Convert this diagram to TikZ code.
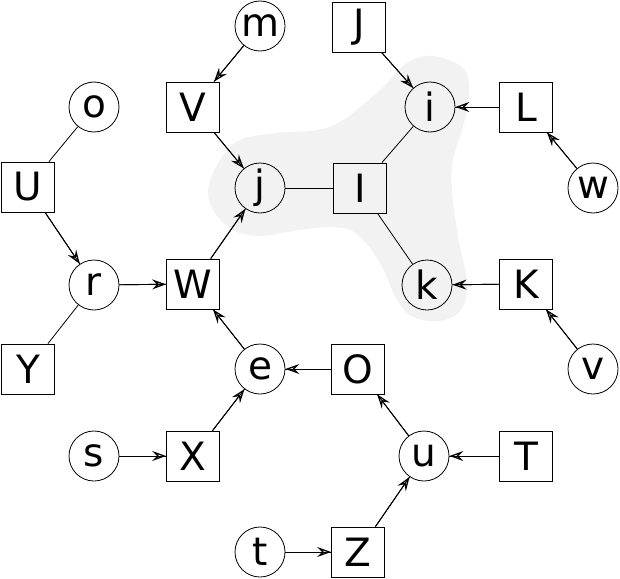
\documentclass[tikz,border=0pt]{standalone}
\usepackage{fontspec}
\setmainfont{DejaVu Sans}
\usetikzlibrary{arrows.meta}
\begin{document}
\begin{tikzpicture}[x=1pt,y=-1pt,
  every node/.style={font=\fontsize{39}{40}\selectfont, inner sep=0pt, line width=0.8pt},
  cnode/.style={draw, circle, minimum size=50pt},
  snode/.style={draw, rectangle, minimum width=53pt, minimum height=50pt},
  plain/.style={draw, line width=0.8pt},
  arr/.style={draw, line width=0.9pt, -{Stealth[open, length=14pt, width=10pt, inset=5pt, line width=1.3pt]}, postaction={draw, -}}
]
\useasboundingbox (0,0) rectangle (620,578);
% shaded region
\fill[black!5] plot[smooth cycle, tension=0.6] coordinates {
 (208,190) (220,160) (240,140) (277,133) (317,130) (343,120) (380,90) (407,63) (433,56)
 (463,68) (469,92) (463,127) (453,160) (452,190) (458,237) (467,283) (461,310)
 (440,321) (413,317) (397,300) (380,263) (357,234) (333,227) (300,230) (260,236)
 (233,230) (215,213)};
% nodes
\node[cnode] (m) at (260,26) {m};
\node[snode] (J) at (359,27) {J};
\node[cnode] (o) at (94,107) {o};
\node[snode] (V) at (193,107) {V};
\node[cnode] (i) at (430,107) {i};
\node[snode] (L) at (526,107) {L};
\node[snode] (U) at (28,187) {U};
\node[cnode] (j) at (260,188) {j};
\node[snode] (I) at (360,188) {I};
\node[cnode] (w) at (593,188) {w};
\node[cnode] (r) at (94,285) {r};
\node[snode] (W) at (193,284) {W};
\node[cnode] (k) at (427,285) {k};
\node[snode] (K) at (526,284) {K};
\node[snode] (Y) at (28,369) {Y};
\node[cnode] (e) at (260,369) {e};
\node[snode] (O) at (358,369) {O};
\node[cnode] (v) at (593,369) {v};
\node[cnode] (s) at (94,456) {s};
\node[snode] (X) at (193,456) {X};
\node[cnode] (u) at (424,456) {u};
\node[snode] (T) at (526,456) {T};
\node[cnode] (t) at (260,552) {t};
\node[snode] (Z) at (358,552) {Z};
% edges
\draw[arr] (m) -- (V);
\draw[plain] (o) -- (U);
\draw[arr] (U) -- (r);
\draw[arr] (V) -- (j);
\draw[arr] (W) -- (j);
\draw[arr] (r) -- (W);
\draw[plain] (Y) -- (r);
\draw[arr] (J) -- (i);
\draw[arr] (L) -- (i);
\draw[arr] (w) -- (L);
\draw[plain] (I) -- (i);
\draw[plain] (I) -- (j);
\draw[plain] (I) -- (k);
\draw[arr] (K) -- (k);
\draw[arr] (v) -- (K);
\draw[arr] (e) -- (W);
\draw[arr] (O) -- (e);
\draw[arr] (X) -- (e);
\draw[arr] (s) -- (X);
\draw[arr] (u) -- (O);
\draw[arr] (T) -- (u);
\draw[arr] (Z) -- (u);
\draw[arr] (t) -- (Z);
\end{tikzpicture}
\end{document}
